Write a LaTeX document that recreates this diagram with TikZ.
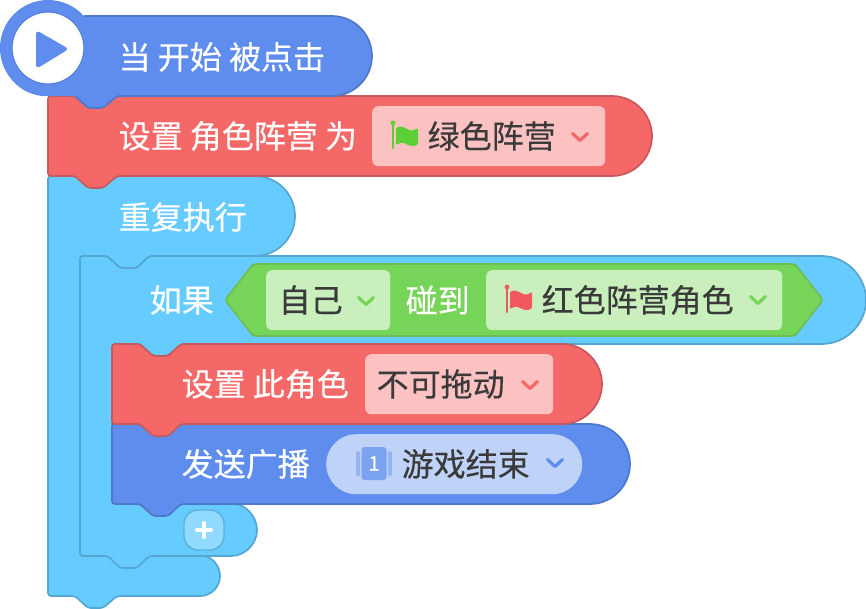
\documentclass[tikz,border=0pt]{standalone}
\usepackage{fontspec}
\setmainfont[FakeBold=0.3]{Noto Sans CJK SC}
\definecolor{hatblue}{HTML}{5E8DEE}
\definecolor{hatedge}{HTML}{4F78C8}
\definecolor{setred}{HTML}{F56868}
\definecolor{rededge}{HTML}{C75A5E}
\definecolor{loopcyan}{HTML}{66CCFF}
\definecolor{loopedge}{HTML}{55A6D0}
\definecolor{sensegreen}{HTML}{76D558}
\definecolor{greenedge}{HTML}{6CBE54}
\definecolor{pillred}{HTML}{FCC1C1}
\definecolor{pillgreen}{HTML}{C8EFBC}
\definecolor{pillblue}{HTML}{BFD2F8}
\definecolor{inktext}{HTML}{3A3A3A}
\definecolor{flaggreen}{HTML}{5BCF35}
\definecolor{flagred}{HTML}{F2595F}
\tikzset{
  blockshape/.style={line width=1.7pt,line join=round},
  hatblock/.style={blockshape,fill=hatblue,draw=hatedge},
  redblock/.style={blockshape,fill=setred,draw=rededge},
  loopblock/.style={blockshape,fill=loopcyan,draw=loopedge},
  senseblock/.style={blockshape,fill=sensegreen,draw=greenedge},
  wlabel/.style={anchor=west,inner sep=0pt,text=white,font=\fontsize{32}{32}\selectfont},
  dlabel/.style={anchor=west,inner sep=0pt,text=inktext,font=\fontsize{32}{32}\selectfont},
  pill/.style={anchor=north west,inner sep=0pt,rounded corners=6pt,minimum height=60pt},
  chevron/.style={line width=3.2pt,line cap=round,line join=round}
}
% small drop-down arrow
\newcommand{\chev}[3]{\draw[chevron,draw=#3] (#1-7.5,#2-3.5) -- (#1,#2+3.5) -- (#1+7.5,#2-3.5);}
% team flag on a pole
\newcommand{\teamflag}[3]{%
  \begin{scope}[shift={(#1,#2)}]
    \draw[line width=2.6pt,line cap=round,draw=#3] (0,0) -- (0,25);
    \fill[#3] (0,0) circle[radius=2.4pt];
    \fill[#3,rounded corners=1pt] (3,5) .. controls (8,2) and (12,5) .. (16,7)
      .. controls (19,8) and (22,7) .. (25,5) -- (25,21)
      .. controls (21,24) and (17,23) .. (13,21) .. controls (9,19) and (6,20) .. (3,22) -- cycle;
  \end{scope}}
\begin{document}
\begin{tikzpicture}[x=1pt,y=-1pt]
\useasboundingbox (0,0) rectangle (866,608);

% outer repeat loop
\draw[loopblock] (150,176) -- (255,176)
  .. controls (277,176) and (295,194) .. (295,216)
  .. controls (295,238) and (277,256) .. (255,256)
  [rounded corners=3pt] -- (149,256) -- (137,268) -- (120,268) -- (107,256) -- (80,256) -- (80,556)
  -- (200,556) [sharp corners]
  .. controls (211,556) and (220,565) .. (220,576)
  .. controls (220,587) and (211,596) .. (200,596)
  [rounded corners=3pt] -- (117,596) -- (103,608) -- (88,608) -- (75,596) -- (48,596) -- (48,176) -- cycle;

% conditional block with its arm
\draw[loopblock] (300,256) -- (822,256)
  .. controls (846,256) and (866,276) .. (866,300)
  .. controls (866,324) and (846,344) .. (822,344)
  [rounded corners=3pt] -- (181,344) -- (168,356) -- (153,356) -- (140,344) -- (112,344) -- (112,504)
  -- (231,504) [sharp corners]
  .. controls (245,504) and (257,516) .. (257,530)
  .. controls (257,544) and (245,556) .. (231,556)
  [rounded corners=3pt] -- (149,556) -- (137,568) -- (120,568) -- (108,556) -- (80,556) -- (80,256)
  -- (107,256) -- (120,268) -- (137,268) -- (149,256) -- cycle;

% add button
\node[draw=loopedge!70!loopcyan,fill=loopcyan!72!white,line width=1.4pt,rounded corners=14pt,
  minimum size=40pt,inner sep=0pt] (addbtn) at (204,530) {};
\draw[white,line width=4pt,line cap=round] (197,530) -- (211,530) (204,523) -- (204,537);

% broadcast block
\draw[hatblock] (300,424) -- (590,424)
  .. controls (612,424) and (630,442) .. (630,464)
  .. controls (630,486) and (612,504) .. (590,504)
  [rounded corners=3pt] -- (181,504) -- (168,516) -- (153,516) -- (140,504) -- (112,504) -- (112,424) -- cycle;

% draggable setting block
\draw[redblock] (300,344) -- (562,344)
  .. controls (584,344) and (602,362) .. (602,384)
  .. controls (602,406) and (584,424) .. (562,424)
  [rounded corners=3pt] -- (181,424) -- (168,436) -- (153,436) -- (140,424) -- (112,424) -- (112,344)
  -- (140,344) -- (153,356) -- (168,356) -- (181,344) -- cycle;

% team setting block
\draw[redblock] (300,96) -- (612,96)
  .. controls (634,96) and (652,114) .. (652,136)
  .. controls (652,158) and (634,176) .. (612,176)
  [rounded corners=3pt] -- (117,176) -- (103,188) -- (88,188) -- (75,176) -- (48,176) -- (48,96) -- cycle;

% start hat: filled as one shape, with the edge left off the circular cap
\fill[hatblue] (84,16) -- (332,16)
  .. controls (354,16) and (372,34) .. (372,56)
  .. controls (372,78) and (354,96) .. (332,96)
  [rounded corners=3pt] -- (117,96) -- (103,108) -- (88,108) -- (75,96) -- (48,96) [sharp corners]
  .. controls (21.5,96) and (0,74.5) .. (0,48)
  .. controls (0,21.5) and (21.5,0) .. (48,0)
  .. controls (61.7,0) and (74.7,5.8) .. (84,16) -- cycle;
\draw[blockshape,draw=hatedge] (84,16) -- (332,16)
  .. controls (354,16) and (372,34) .. (372,56)
  .. controls (372,78) and (354,96) .. (332,96)
  [rounded corners=3pt] -- (117,96) -- (103,108) -- (88,108) -- (75,96);
\node[circle,fill=white,draw=hatedge!60!hatblue,line width=1.2pt,minimum size=72pt,inner sep=0pt] (playdisc) at (48,48) {};
\fill[hatblue,draw=hatblue,line width=4pt,line join=round] (38,33.5) -- (65,49) -- (38,65.5) -- cycle;

% hat and block labels
\node[wlabel] (hatlabel) at (118.5,57) {当 开始 被点击};
\node[wlabel] (teamlabel) at (118.5,136) {设置 角色阵营 为};
\node[wlabel] (repeatlabel) at (118.5,217) {重复执行};
\node[wlabel] (iflabel) at (149.5,300) {如果};
\node[wlabel] (draglabel) at (181.5,384) {设置 此角色};
\node[wlabel] (sendlabel) at (181.5,464) {发送广播};

% team drop-down
\node[pill,fill=pillred,minimum width=233pt] (teampill) at (372,106) {};
\teamflag{393}{123}{flaggreen}
\node[dlabel] (teamvalue) at (427.5,136) {绿色阵营};
\chev{580}{137}{setred}

% touch condition
\draw[senseblock,rounded corners=3pt] (500,264) -- (795,264) -- (823,300) -- (795,336)
  -- (253,336) -- (225,300) -- (253,264) -- cycle;
\node[pill,fill=pillgreen,minimum width=124pt] (selfpill) at (266,270) {};
\node[dlabel] (selfvalue) at (278.5,300) {自己};
\chev{366}{301}{sensegreen}
\node[wlabel] (touchlabel) at (405.5,300) {碰到};
\node[pill,fill=pillgreen,minimum width=296pt] (targetpill) at (486,270) {};
\teamflag{507}{287}{flagred}
\node[dlabel] (targetvalue) at (541.5,300) {红色阵营角色};
\chev{758}{300}{sensegreen}

% drag drop-down
\node[pill,fill=pillred,minimum width=188pt] (dragpill) at (365,354) {};
\node[dlabel] (dragvalue) at (376.5,384) {不可拖动};
\chev{530}{385}{setred}

% broadcast message drop-down
\node[pill,fill=pillblue,minimum width=256pt,rounded corners=30pt] (msgpill) at (326,434) {};
\fill[hatblue!45!pillblue,rounded corners=1.5pt] (356,451) rectangle (360,476);
\fill[hatblue!45!pillblue,rounded corners=1.5pt] (388,451) rectangle (392,476);
\node[fill=hatblue!70!pillblue,rounded corners=3pt,minimum width=25pt,minimum height=33pt,inner sep=0pt,
  text=white,font=\fontsize{20}{20}\selectfont] (msgicon) at (374,463.5) {1};
\node[dlabel] (msgvalue) at (401.5,464) {游戏结束};
\chev{555}{463}{hatblue}
\end{tikzpicture}
\end{document}
